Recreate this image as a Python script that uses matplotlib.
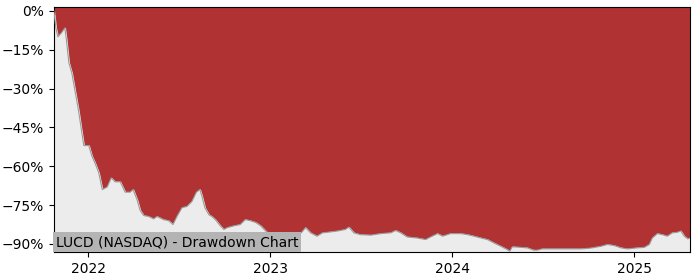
import matplotlib
matplotlib.use("Agg")
import matplotlib.pyplot as plt
import matplotlib.dates as mdates
from matplotlib.ticker import PercentFormatter
import pandas as pd

TICKER = "LUCD (NASDAQ)"

dates = [
    "2021-10-24", "2021-10-28", "2021-11-01", "2021-11-08", "2021-11-15", "2021-11-18",
    "2021-11-23", "2021-11-29", "2021-12-05", "2021-12-12", "2021-12-19", "2021-12-23",
    "2022-01-02", "2022-01-08", "2022-01-15", "2022-01-22", "2022-01-29", "2022-02-08",
    "2022-02-16", "2022-02-24", "2022-03-06", "2022-03-16", "2022-03-26", "2022-04-01",
    "2022-04-09", "2022-04-15", "2022-04-22", "2022-05-02", "2022-05-12", "2022-05-19",
    "2022-06-01", "2022-06-11", "2022-06-20", "2022-06-28", "2022-07-08", "2022-07-18",
    "2022-07-28", "2022-08-06", "2022-08-13", "2022-08-17", "2022-08-23", "2022-08-31",
    "2022-09-06", "2022-09-13", "2022-09-23", "2022-09-30", "2022-10-07", "2022-10-20",
    "2022-11-02", "2022-11-12", "2022-11-22", "2022-12-03", "2022-12-13", "2022-12-26",
    "2023-01-08", "2023-01-22", "2023-02-11", "2023-03-03", "2023-03-13", "2023-03-23",
    "2023-04-05", "2023-04-16", "2023-04-26", "2023-05-16", "2023-06-01", "2023-06-08",
    "2023-06-18", "2023-07-01", "2023-07-22", "2023-08-11", "2023-08-31", "2023-09-10",
    "2023-09-20", "2023-10-03", "2023-10-23", "2023-11-09", "2023-11-19", "2023-12-03",
    "2023-12-13", "2023-12-29", "2024-01-18", "2024-02-01", "2024-02-14", "2024-02-28",
    "2024-03-12", "2024-03-25", "2024-04-08", "2024-04-21", "2024-04-26", "2024-05-01",
    "2024-05-18", "2024-05-31", "2024-06-13", "2024-06-20", "2024-06-30", "2024-07-17",
    "2024-08-06", "2024-08-26", "2024-09-15", "2024-10-05", "2024-10-26", "2024-11-08",
    "2024-11-21", "2024-12-05", "2024-12-18", "2025-01-07", "2025-01-21", "2025-01-31",
    "2025-02-06", "2025-02-16", "2025-02-26", "2025-03-08", "2025-03-18", "2025-03-28",
    "2025-04-04", "2025-04-11", "2025-04-18", "2025-04-23",
]

drawdown = [
    0.0, -6.6, -10.0, -8.5, -6.6, -11.0,
    -20.0, -24.0, -30.5, -38.0, -47.0, -52.0,
    -52.0, -56.0, -59.0, -62.5, -69.0, -68.0,
    -64.5, -66.0, -66.0, -70.0, -70.0, -69.0,
    -73.0, -77.0, -79.0, -79.4, -80.3, -79.4,
    -80.6, -81.0, -82.5, -79.4, -76.0, -75.5,
    -73.6, -70.0, -69.0, -71.5, -76.0, -78.7,
    -79.4, -80.6, -83.0, -84.4, -83.7, -83.0,
    -82.5, -80.6, -81.0, -81.7, -83.0, -85.6,
    -86.4, -86.4, -86.5, -86.0, -83.7, -85.7,
    -87.0, -85.7, -85.5, -85.0, -84.4, -83.5,
    -85.7, -86.4, -86.6, -86.0, -85.7, -84.8,
    -85.7, -87.3, -87.7, -88.3, -87.3, -86.0,
    -87.0, -86.0, -86.0, -86.4, -87.0, -87.7,
    -88.3, -89.6, -90.9, -92.2, -92.8, -91.1,
    -91.3, -91.5, -92.4, -92.4, -91.9, -91.9,
    -91.9, -91.9, -91.9, -91.6, -90.9, -90.2,
    -90.6, -91.5, -91.9, -91.5, -91.3, -90.2,
    -87.7, -86.0, -86.4, -87.0, -85.7, -85.5,
    -85.0, -87.0, -88.0, -87.7,
]

x = pd.to_datetime(dates)
ymin, ymax = -93.1, 1.4

fig = plt.figure(figsize=(7, 2.8), dpi=100)
ax = fig.add_axes([0.077, 0.1, 0.909, 0.874])
ax.set_facecolor("#b03232")

# grey area below the drawdown curve, red background above it
ax.fill_between(x, drawdown, ymin, color="#ececec", zorder=2)
ax.plot(x, drawdown, color="#9a9a9a", linewidth=0.8, zorder=3)

ax.set_ylim(ymin, ymax)
ax.set_xlim(x[0], x[-1])
ax.set_yticks([0, -15, -30, -45, -60, -75, -90])
ax.yaxis.set_major_formatter(PercentFormatter(decimals=0))
ax.xaxis.set_major_locator(mdates.YearLocator())
ax.xaxis.set_major_formatter(mdates.DateFormatter("%Y"))
ax.tick_params(labelsize=10)

ax.text(0.003, 0.012, f"{TICKER} - Drawdown Chart", transform=ax.transAxes,
        fontsize=10, ha="left", va="bottom", zorder=5,
        bbox=dict(boxstyle="square,pad=0.22", facecolor="#b4b4b4", edgecolor="none"))

fig.savefig("out.png", dpi=100)
